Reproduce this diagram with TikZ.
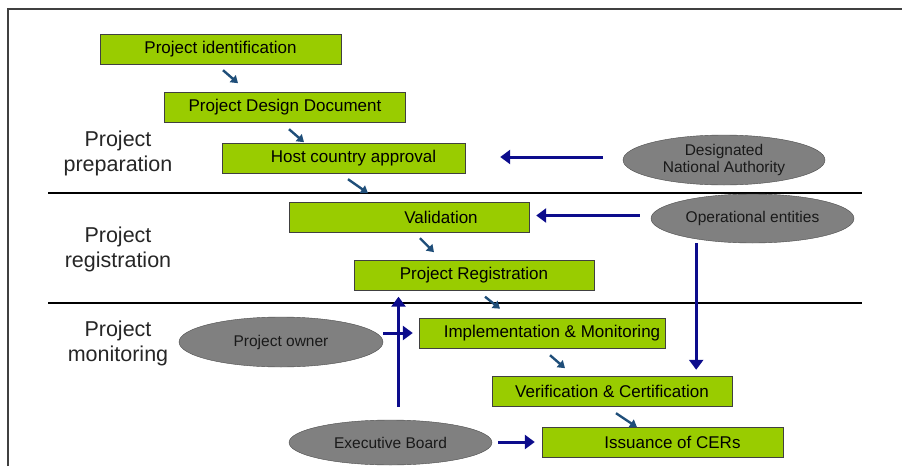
\documentclass[tikz,border=0pt]{standalone}
\usepackage{fontspec}
\setmainfont{Liberation Sans}
\usetikzlibrary{shapes.geometric,arrows.meta}

\definecolor{boxgreen}{RGB}{153,204,0}
\definecolor{actorgray}{RGB}{128,128,128}
\definecolor{flowblue}{RGB}{12,12,140}
\definecolor{tickblue}{RGB}{31,78,121}

\begin{document}
\begin{tikzpicture}[x=1pt,y=-1pt,
  stage/.style={draw=black!75, fill=boxgreen, minimum width=241pt, minimum height=30pt,
    inner sep=0pt, font=\fontsize{17}{19}\selectfont},
  actor/.style={ellipse, draw=black!70, fill=actorgray, inner sep=0pt, align=center,
    text=black!90, font=\fontsize{15.5}{16.5}\selectfont},
  phase/.style={align=center, text=black!85, font=\fontsize{21.5}{25}\selectfont},
  flow/.style={draw=flowblue, line width=3pt, -{Triangle[length=10pt,width=14pt]}},
  tick/.style={draw=tickblue, line width=2.4pt, -{Triangle[length=7pt,width=9pt]}},
  rule/.style={line width=2.8pt}]

  \useasboundingbox (0,0) rectangle (902,466);
  \draw[black!75, line width=1.2pt] (8,466) -- (8,9) -- (902,9);

  \draw[rule] (48,193) -- (862,193);
  \draw[rule] (48,303) -- (862,303);

  \node[phase] (prep) at (118,153) {Project\\preparation};
  \node[phase] (reg) at (118,249) {Project\\registration};
  \node[phase] (mon) at (118,343) {Project\\monitoring};

  \node[stage] (ident) at (220.5,49) {Project identification};
  \node[stage] (pdd) at (285,107) {Project Design Document};
  \node[stage, minimum width=243pt] (host) at (343.5,158) {\hspace*{20pt}Host country approval};
  \node[stage, minimum width=240pt] (valid) at (409,217) {\hspace*{64pt}Validation};
  \node[stage, minimum width=240pt] (regist) at (474,275.5) {Project Registration};
  \node[stage, minimum width=246pt] (impl) at (542,333) {\hspace*{20pt}Implementation \& Monitoring};
  \node[stage, minimum width=240pt] (verif) at (612,391) {Verification \& Certification};
  \node[stage] (issue) at (662.5,442) {\hspace*{20pt}Issuance of CERs};

  \node[actor, minimum width=202pt, minimum height=50pt] (dna) at (724,160) {Designated\\National Authority};
  \node[actor, minimum width=203pt, minimum height=49pt] (oe) at (752.5,218.5) {Operational entities};
  \node[actor, minimum width=204pt, minimum height=50pt] (owner) at (281,342) {Project owner};
  \node[actor, minimum width=203pt, minimum height=45pt] (board) at (390.5,442.5) {Executive Board};

  %% steps
  \draw[tick] ([xshift=2.5pt,yshift=-6pt]ident.south) -- ++(15,13);
  \draw[tick] ([xshift=4pt,yshift=-7pt]pdd.south) -- ++(15,13);
  \draw[tick] ([xshift=4.5pt,yshift=-6pt]host.south) -- ++(20,14);
  \draw[tick] ([xshift=11pt,yshift=-6pt]valid.south) -- ++(14,14);
  \draw[tick] ([xshift=11pt,yshift=-6pt]regist.south) -- ++(15,12);
  \draw[tick] ([xshift=8pt,yshift=-7pt]impl.south) -- ++(15,13);
  \draw[tick] ([xshift=4pt,yshift=-7pt]verif.south) -- ++(21,14);

  %% actors
  \draw[flow, shorten <=20pt, shorten >=35pt] ([yshift=3pt]dna.west) -- ([yshift=3pt]dna.west -| host.east);
  \draw[flow, shorten <=11pt, shorten >=7pt] ([yshift=3pt]oe.west) -- ([yshift=3pt]oe.west -| valid.east);
  \draw[flow, shorten >=6pt] ([xshift=-36pt]verif.north east |- oe.south) -- ([xshift=-36pt]verif.north east);
  \draw[flow, shorten >=6pt] ([xshift=8pt,yshift=13pt]board.north) -- ([xshift=8pt]board.north |- regist.south);
  \draw[flow, shorten >=6pt] (owner.east |- impl.west) -- (impl.west);
  \draw[flow, shorten <=6pt, shorten >=7pt] (board.east |- issue.west) -- (issue.west);
\end{tikzpicture}
\end{document}
